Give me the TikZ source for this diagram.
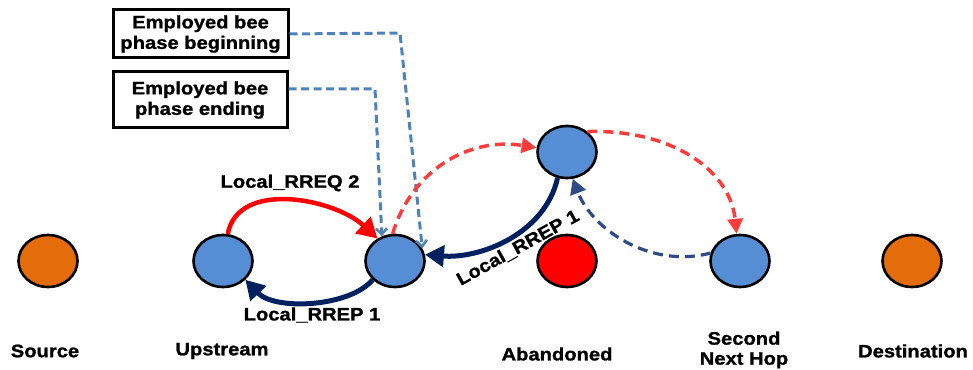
\documentclass[tikz,border=0pt]{standalone}
\usepackage{fontspec}
\setmainfont[FakeStretch=1.12,BoldFeatures={FakeBold=1.2}]{Liberation Sans}
\usetikzlibrary{arrows.meta,shapes.geometric}
\definecolor{nodeblue}{HTML}{558ED5}
\definecolor{srcorange}{HTML}{E46C0A}
\definecolor{navy}{HTML}{002060}
\definecolor{dashred}{HTML}{FF3B3B}
\definecolor{dashblue}{HTML}{4F81BD}
\definecolor{darkdash}{HTML}{2F4B87}
\tikzset{
  netnode/.style={ellipse,draw=black,line width=2.6pt,minimum width=59pt,minimum height=52pt,inner sep=0pt},
  lbl/.style={font=\fontsize{18}{20}\selectfont\bfseries,align=center,inner sep=0pt},
  infobox/.style={draw=black,line width=3pt,fill=white,font=\fontsize{18}{20.5}\selectfont\bfseries,align=center,inner sep=2pt},
  navyarrow/.style={draw=navy,line width=5pt,-{Triangle[length=19pt,width=21pt]}},
  redarrow/.style={draw=red,line width=4.5pt,-{Triangle[length=20pt,width=22pt]}},
  reddash/.style={draw=dashred,line width=3.5pt,dash pattern=on 10pt off 6pt,-{Triangle[length=15pt,width=15pt]}},
  bluedash/.style={draw=dashblue,line width=3pt,dash pattern=on 8pt off 4.5pt,-{Straight Barb[length=6pt,width=11pt,line width=2.6pt]}},
  darkdashed/.style={draw=darkdash,line width=3.2pt,dash pattern=on 10pt off 6pt,-{Triangle[length=15pt,width=16pt]}}
}
\begin{document}
\begin{tikzpicture}[x=1pt,y=1pt]
\useasboundingbox (0,0) rectangle (973,369);
% nodes
\node[netnode,fill=srcorange] (src) at (48,108) {};
\node[netnode,fill=nodeblue] (up) at (223,108) {};
\node[netnode,fill=nodeblue] (n3) at (395,108) {};
\node[netnode,fill=nodeblue] (top) at (567,217) {};
\node[netnode,fill=red] (ab) at (567,108) {};
\node[netnode,fill=nodeblue] (snh) at (740,108) {};
\node[netnode,fill=srcorange] (dst) at (912,108) {};
% labels under nodes
\node[lbl] (lsrc) at (45,18) {Source};
\node[lbl] (lup) at (222,18) {Upstream};
\node[lbl] (lab) at (557,15) {Abandoned};
\node[lbl] (lsnh) at (744,19) {Second\\Next Hop};
\node[lbl] (ldst) at (913,18) {Destination};
% info boxes
\node[infobox,minimum width=175pt,minimum height=48pt] (b1) at (200.5,335) {Employed bee\\phase beginning};
\node[infobox,minimum width=174pt,minimum height=56pt] (b2) at (200,269) {Employed bee\\phase ending};
% blue dashed pointers
\coordinate (k1) at (400,336);
\coordinate (k2) at (375,280);
\draw[bluedash] (b1.east) -- (k1) -- (n3.25);
\draw[bluedash] (b2.east |- k2) -- (k2) -- (n3.118);
% Local_RREQ 2
\draw[redarrow] (up.80) .. controls (238,190) and (335,170) .. (n3.128);
\node[lbl] (lreq) at (290,186) {Local\_RREQ 2};
% Local_RREP 1 lower
\draw[navyarrow] (n3.220) .. controls (350,62) and (275,58) .. (up.-40);
\node[lbl] (lrep1) at (312,54) {Local\_RREP 1};
% Local_RREP 1 from top
\draw[navyarrow] (top.250) .. controls (545,135) and (480,110) .. (n3.12);
\node[lbl,rotate=29] (lrep2) at (518,121) {Local\_RREP 1};
% red dashed
\draw[reddash] (n3.95) .. controls (412,200) and (470,232) .. (top.172);
\draw[reddash] (top.45) .. controls (670,240) and (730,200) .. (snh.97);
% dark dashed back
\draw[darkdashed] (snh.165) .. controls (650,100) and (592,140) .. (top.-78);
\end{tikzpicture}
\end{document}
